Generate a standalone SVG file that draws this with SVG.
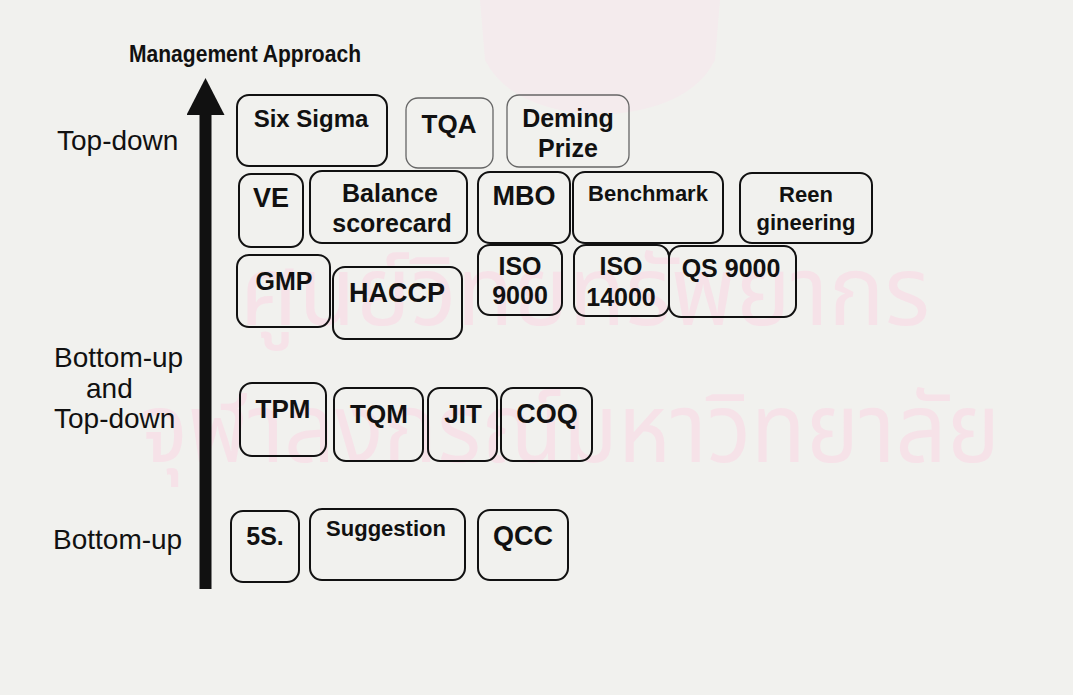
<svg xmlns="http://www.w3.org/2000/svg" width="1073" height="695" viewBox="0 0 1073 695">
<style>
.bg{fill:#f1f1ee}
.wm{fill:#f6e2e8;font-family:"Noto Sans Thai","Noto Sans","DejaVu Sans",sans-serif}
.box{fill:none;stroke:#111;stroke-width:2}
.gbox{fill:none;stroke:#666;stroke-width:1.3}
.t{font-family:"Liberation Sans",Arial,sans-serif;font-weight:bold;fill:#111;text-anchor:middle}
.lab{font-family:"Liberation Sans",Arial,sans-serif;font-size:28px;fill:#111}
</style>
<defs>
<marker id="head" markerUnits="userSpaceOnUse" markerWidth="38" markerHeight="40" viewBox="0 0 38 40" refX="0" refY="19" orient="auto">
<path d="M0,0 L37,19 L0,38 z" fill="#111"/>
</marker>
</defs>
<rect class="bg" x="0" y="0" width="1073" height="695"/>
<g id="watermark">
<path d="M480,0 L720,0 L715,60 Q690,110 600,115 Q510,110 485,60 Z" fill="#f4ebed"/>
<text class="wm" x="240" y="325" font-size="96" textLength="690" lengthAdjust="spacingAndGlyphs">ศูนย์วิทยทรัพยากร</text>
<text class="wm" x="140" y="462" font-size="96" textLength="860" lengthAdjust="spacingAndGlyphs">จุฬาลงกรณ์มหาวิทยาลัย</text>
</g>
<g id="labels">
<text x="129" y="62" font-family="Liberation Sans, Arial, sans-serif" font-weight="bold" font-size="24" fill="#111" textLength="232" lengthAdjust="spacingAndGlyphs">Management Approach</text>
<text class="lab" x="57" y="150">Top-down</text>
<text class="lab" x="54" y="367">Bottom-up</text>
<text class="lab" x="86" y="398">and</text>
<text class="lab" x="54" y="428">Top-down</text>
<text class="lab" x="53" y="549">Bottom-up</text>
</g>
<g id="connectors">
<line x1="205.5" y1="589" x2="205.5" y2="115" stroke="#111" stroke-width="12" marker-end="url(#head)"/>
</g>
<g id="n-sixsigma"><rect class="box" x="237" y="95" width="150" height="71" rx="12"/><text class="t" x="311" y="127" font-size="24">Six Sigma</text></g>
<g id="n-tqa"><rect class="gbox" x="406" y="98" width="87" height="70" rx="12"/><text class="t" x="449" y="133" font-size="26">TQA</text></g>
<g id="n-deming"><rect class="gbox" x="507" y="95" width="122" height="72" rx="12"/><text class="t" x="568" y="127" font-size="25">Deming</text><text class="t" x="568" y="157" font-size="25">Prize</text></g>
<g id="n-ve"><rect class="box" x="239" y="174" width="64" height="73" rx="12"/><text class="t" x="271" y="207" font-size="27">VE</text></g>
<g id="n-balance"><rect class="box" x="310" y="171" width="157" height="72" rx="12"/><text class="t" x="390" y="202" font-size="25">Balance</text><text class="t" x="392" y="232" font-size="25">scorecard</text></g>
<g id="n-mbo"><rect class="box" x="478" y="172" width="92" height="71" rx="12"/><text class="t" x="524" y="205" font-size="27">MBO</text></g>
<g id="n-benchmark"><rect class="box" x="573" y="172" width="150" height="71" rx="12"/><text class="t" x="648" y="201" font-size="22">Benchmark</text></g>
<g id="n-reengineering"><rect class="box" x="740" y="173" width="132" height="70" rx="12"/><text class="t" x="806" y="202" font-size="22">Reen</text><text class="t" x="806" y="230" font-size="22">gineering</text></g>
<g id="n-gmp"><rect class="box" x="237" y="255" width="93" height="72" rx="12"/><text class="t" x="284" y="290" font-size="25">GMP</text></g>
<g id="n-haccp"><rect class="box" x="333" y="267" width="129" height="72" rx="12"/><text class="t" x="397" y="302" font-size="27">HACCP</text></g>
<g id="n-iso9000"><rect class="box" x="478" y="245" width="84" height="70" rx="12"/><text class="t" x="520" y="275" font-size="25">ISO</text><text class="t" x="520" y="304" font-size="25">9000</text></g>
<g id="n-iso14000"><rect class="box" x="574" y="245" width="95" height="71" rx="12"/><text class="t" x="621" y="275" font-size="25">ISO</text><text class="t" x="621" y="306" font-size="25">14000</text></g>
<g id="n-qs9000"><rect class="box" x="669" y="246" width="127" height="71" rx="12"/><text class="t" x="731" y="277" font-size="25">QS 9000</text></g>
<g id="n-tpm"><rect class="box" x="240" y="383" width="86" height="73" rx="12"/><text class="t" x="283" y="418" font-size="26">TPM</text></g>
<g id="n-tqm"><rect class="box" x="334" y="388" width="89" height="73" rx="12"/><text class="t" x="379" y="423" font-size="26">TQM</text></g>
<g id="n-jit"><rect class="box" x="428" y="388" width="69" height="73" rx="12"/><text class="t" x="463" y="423" font-size="26">JIT</text></g>
<g id="n-coq"><rect class="box" x="501" y="388" width="91" height="73" rx="12"/><text class="t" x="547" y="423" font-size="27">COQ</text></g>
<g id="n-5s"><rect class="box" x="231" y="511" width="68" height="71" rx="12"/><text class="t" x="265" y="545" font-size="25">5S.</text></g>
<g id="n-suggestion"><rect class="box" x="310" y="509" width="155" height="71" rx="12"/><text class="t" x="386" y="536" font-size="22">Suggestion</text></g>
<g id="n-qcc"><rect class="box" x="478" y="510" width="90" height="70" rx="12"/><text class="t" x="523" y="545" font-size="27">QCC</text></g>
</svg>
